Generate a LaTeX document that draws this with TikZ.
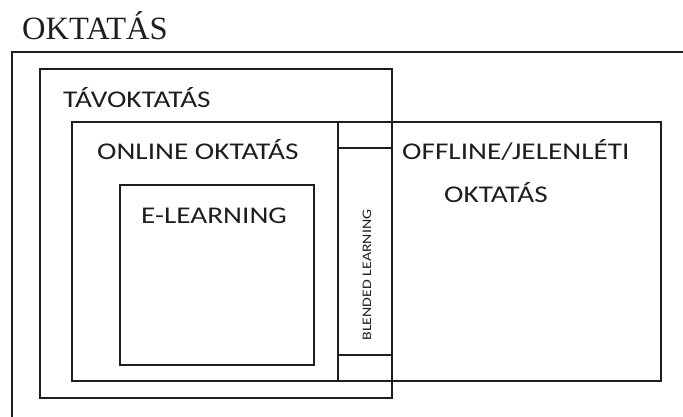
\documentclass[tikz,border=0pt]{standalone}
\usepackage{fontspec}
\setmainfont{Liberation Serif}
\newfontfamily\calfont[FakeStretch=1.22]{Carlito}
\usepackage{tikz}
\usetikzlibrary{positioning}
\definecolor{inkgray}{RGB}{30,30,30}

\begin{document}
\begin{tikzpicture}[x=1pt,y=-1pt,
    box/.style={draw=inkgray,line width=1.3pt},
    lbl/.style={anchor=base west,inner sep=0pt,text=inkgray,font=\calfont\fontsize{24}{28}\selectfont}]
  \useasboundingbox (0,0) rectangle (683,417);
  \clip (0,0) rectangle (683,417);
  % ---- title and outer frame
  \node[anchor=base west,inner sep=0pt,text=inkgray,font=\fontsize{32.5}{38}\selectfont] (oktatas) at (22,40) {OKTATÁS};
  \draw[box] (12,52) rectangle (720,460);
  % ---- distance learning
  \draw[box] (40,69) rectangle (392,398);
  \node[lbl] (tavokt) at (63,108) {TÁVOKTATÁS};
  % ---- online and offline, sharing the blended strip
  \draw[box] (72,122) rectangle (661,381);
  \draw[box] (338,122) -- (338,381);
  \draw[box] (338,148) -- (392,148);
  \draw[box] (338,355) -- (392,355);
  \node[lbl] (online) at (97,160) {ONLINE OKTATÁS};
  \node[lbl] (offline) at (402,160) {OFFLINE/JELENLÉTI};
  \node[lbl] (offline2) at (444,202) {OKTATÁS};
  \node[inner sep=0pt,text=inkgray,rotate=90,font=\calfont\fontsize{13}{15}\selectfont] (blended) at (367,275) {BLENDED LEARNING};
  % ---- e-learning
  \draw[box] (120,185) rectangle (314,365);
  \node[lbl] (elearn) at (141,223) {E-LEARNING};
\end{tikzpicture}
\end{document}
